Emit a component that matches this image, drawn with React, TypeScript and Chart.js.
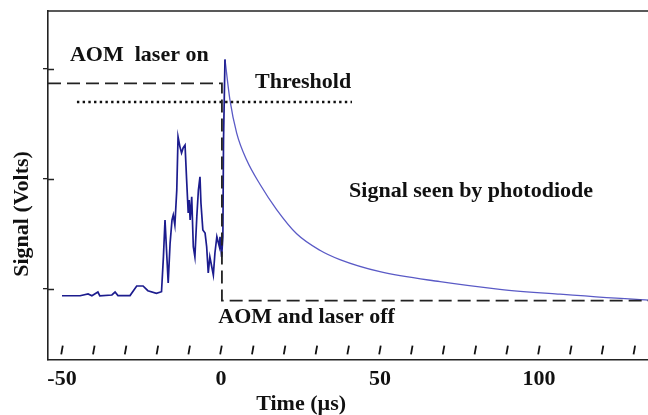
import React, { useEffect, useRef } from "react";
import { Chart, registerables } from "chart.js";

Chart.register(...registerables);

// Axis ranges (µs, volts)
const X_MIN = -54.4;
const X_MAX = 134.3;
const Y_MIN = -0.648;
const Y_MAX = 2.525;
const xTickValues = [-50, 0, 50, 100];
const yTickValues = [0, 1, 2];

// Noisy signal before the laser switch-on (ends with the rising edge)
const noiseX = [-50.0, -44.3, -41.8, -40.6, -38.7, -38.1, -34.3, -33.3, -32.4, -28.6, -26.5, -24.5, -23.0, -20.3, -18.7,
  -18.1, -17.6, -16.6, -16.0, -15.4, -15.0, -14.5, -13.9, -13.5, -12.9, -12.4, -11.9, -11.3, -10.8, -10.3, -10.0, -9.7,
  -9.2, -8.7, -8.2, -7.6, -7.1, -6.6, -6.3, -5.7, -5.0, -4.5, -4.0, -3.5, -2.9, -2.4, -1.9, -1.3, -0.8, -0.5, -0.3,
  0.2, 0.6, 0.8, 1.26];
const noiseY = [-0.064, -0.064, -0.048, -0.064, -0.03, -0.064, -0.057, -0.03, -0.062, -0.062, 0.025, 0.025, -0.018, -0.042, -0.027,
  0.29, 0.625, 0.052, 0.415, 0.625, 0.67, 0.58, 0.897, 1.382, 1.29, 1.234, 1.28, 1.306, 0.988, 0.688, 0.806, 0.625,
  0.836, 0.382, 0.29, 0.655, 0.897, 1.018, 0.779, 0.534, 0.506, 0.382, 0.143, 0.29, 0.2, 0.125, 0.325, 0.473, 0.415, 0.382, 0.473,
  0.29, 0.473, 1.35, 2.085];

// Decay seen by the photodiode
const decayX = [1.26, 2.83, 4.94, 8.08, 12.26, 17.5, 23.8, 31.1, 37.4, 50, 68.9, 87.7, 106.6, 131.8, 134.3];
const decayY = [2.085, 1.715, 1.415, 1.17, 0.95, 0.72, 0.50, 0.35, 0.265, 0.155, 0.064, -0.005, -0.05, -0.1, -0.103];

// AOM on/off dashed step
const aomX = [-54.4, 0.3, 0.3, 134.3];
const aomY = [1.867, 1.867, -0.109, -0.109];

// Threshold dotted line
const thresholdX = [-45.3, 41.2];
const thresholdY = [1.697, 1.697];

// Minor tick marks inside the plot
const minorTickX = [-50, -40, -30, -20, -10, 0, 10, 20, 30, 40, 50, 60, 70, 80, 90, 100, 110, 120, 130];
const minorTickY = -0.557;

// Annotations
const noteTexts = ["AOM  laser on", "Threshold", "Signal seen by photodiode", "AOM and laser off"];
const noteX = [-47.5, 10.7, 40.3, -0.85];
const noteY = [2.073, 1.822, 0.836, -0.315];
const xTitle = "Time (µs)";
const xTitleAt = 25.2;
const yTitle = "Signal (Volts)";
const yTitleAt = 0.68;

const FONT = '"Liberation Serif", "Times New Roman", serif';

const pts = (xs: number[], ys: number[]) => xs.map((v, i) => ({ x: v, y: ys[i] }));

const framePlugin = {
  id: "frameTop",
  beforeDatasetsDraw(chart: any) {
    const { ctx, chartArea, scales } = chart;
    ctx.save();
    ctx.strokeStyle = "#222";
    ctx.lineWidth = 1.6;
    ctx.beginPath();
    ctx.moveTo(chartArea.left, chartArea.top);
    ctx.lineTo(chart.width, chartArea.top);
    ctx.stroke();
    // inner half of the y tick marks (crossing the axis)
    ctx.lineWidth = 1.3;
    ctx.beginPath();
    yTickValues.forEach((v) => {
      const py = Math.round(scales.y.getPixelForValue(v)) + 0.5;
      ctx.moveTo(chartArea.left, py);
      ctx.lineTo(chartArea.left + 6, py);
    });
    ctx.stroke();
    ctx.restore();
  },
};

const textPlugin = {
  id: "textNotes",
  afterDraw(chart: any) {
    const { ctx, scales, chartArea } = chart;
    const x = scales.x;
    const y = scales.y;
    ctx.save();
    ctx.font = `bold 22px ${FONT}`;
    ctx.fillStyle = "#111";
    ctx.textBaseline = "alphabetic";
    ctx.textAlign = "left";
    noteTexts.forEach((t, i) => {
      ctx.fillText(t, x.getPixelForValue(noteX[i]), y.getPixelForValue(noteY[i]));
    });
    ctx.textAlign = "center";
    ctx.fillText(xTitle, x.getPixelForValue(xTitleAt), chart.height - 5);
    ctx.translate(chartArea.left - 20, y.getPixelForValue(yTitleAt));
    ctx.rotate(-Math.PI / 2);
    ctx.fillText(yTitle, 0, 0);
    ctx.restore();
  },
};

export default function App() {
  const ref = useRef<HTMLCanvasElement | null>(null);

  useEffect(() => {
    if (!ref.current) return;
    const chart = new Chart(ref.current, {
      type: "scatter",
      data: {
        datasets: [
          {
            label: "AOM",
            data: pts(aomX, aomY),
            showLine: true,
            borderColor: "#222",
            borderWidth: 1.8,
            borderDash: [13, 6],
            pointRadius: 0,
            fill: false,
          },
          {
            label: "Threshold",
            data: pts(thresholdX, thresholdY),
            showLine: true,
            borderColor: "#111",
            borderWidth: 2.6,
            borderDash: [2.4, 3.3],
            pointRadius: 0,
            fill: false,
          },
          {
            label: "Noise",
            data: pts(noiseX, noiseY),
            showLine: true,
            borderColor: "#1c1c8e",
            borderWidth: 1.7,
            pointRadius: 0,
            fill: false,
          },
          {
            label: "Decay",
            data: pts(decayX, decayY),
            showLine: true,
            borderColor: "#5a5ac6",
            borderWidth: 1.3,
            cubicInterpolationMode: "monotone",
            pointRadius: 0,
            fill: false,
          },
          {
            label: "Ticks",
            data: minorTickX.map((v) => ({ x: v, y: minorTickY })),
            showLine: false,
            pointStyle: "line",
            rotation: 100,
            radius: 4.5,
            borderColor: "#111",
            borderWidth: 1.8,
          } as any,
        ],
      },
      options: {
        animation: false,
        responsive: true,
        maintainAspectRatio: false,
        layout: { autoPadding: false, padding: { top: 11, left: 0, right: 0, bottom: 0 } },
        plugins: { legend: { display: false }, tooltip: { enabled: false } },
        scales: {
          x: {
            type: "linear",
            position: "bottom",
            min: X_MIN,
            max: X_MAX,
            afterBuildTicks: (s: any) => {
              s.ticks = xTickValues.map((v) => ({ value: v }));
            },
            afterFit: (s: any) => {
              s.height = 55;
              s.paddingLeft = 0;
              s.paddingRight = 0;
            },
            grid: { display: false, drawTicks: false },
            border: { display: true, color: "#222", width: 1.6 },
            ticks: {
              padding: 6,
              color: "#111",
              font: { family: FONT, size: 22, weight: "bold" },
              maxRotation: 0,
              callback: (v: any) => String(v),
            },
          },
          y: {
            type: "linear",
            position: "left",
            min: Y_MIN,
            max: Y_MAX,
            afterBuildTicks: (s: any) => {
              s.ticks = yTickValues.map((v) => ({ value: v }));
            },
            afterFit: (s: any) => {
              s.width = 48;
              s.paddingTop = 0;
              s.paddingBottom = 0;
            },
            grid: { display: true, drawOnChartArea: false, drawTicks: true, tickLength: 5, color: "#222", lineWidth: 1.3 },
            border: { display: true, color: "#222", width: 1.6 },
            ticks: { callback: () => "", padding: 0 },
          },
        },
      },
      plugins: [framePlugin, textPlugin],
    });
    return () => chart.destroy();
  }, []);

  return (
    <div style={{ position: "fixed", left: 0, top: 0, width: 648, height: 415, background: "#fff" }}>
      <canvas ref={ref} />
    </div>
  );
}
